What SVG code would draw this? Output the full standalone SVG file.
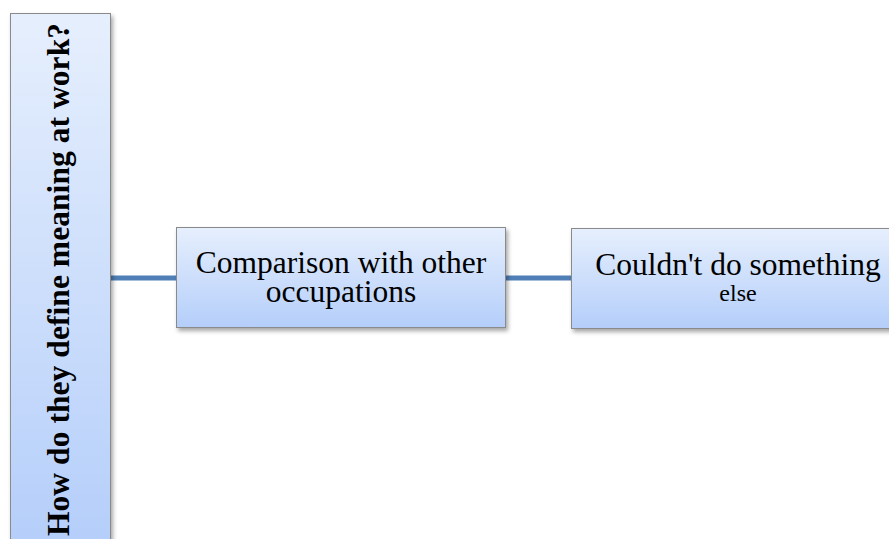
<svg xmlns="http://www.w3.org/2000/svg" width="889" height="539" viewBox="0 0 889 539">
  <defs>
    <linearGradient id="fill" x1="0" y1="0" x2="0" y2="1">
      <stop offset="0" stop-color="#e6effd"/>
      <stop offset="1" stop-color="#b4cefa"/>
    </linearGradient>
    <filter id="shadow" x="-10%" y="-10%" width="130%" height="140%">
      <feDropShadow dx="2" dy="3" stdDeviation="2" flood-color="#000" flood-opacity="0.35"/>
    </filter>
  </defs>
  <style>
    .box { fill: url(#fill); stroke: #8a8a8a; stroke-width: 1; filter: url(#shadow); }
    .lbl { font-family: "Liberation Serif", "Times New Roman", serif; fill: #000; text-anchor: middle; }
    .conn { stroke: #4f7fb6; stroke-width: 5; fill: none; }
  </style>
  <rect width="889" height="539" fill="#fff"/>
  <g id="connectors">
    <line class="conn" x1="111" y1="278" x2="176" y2="278"/>
    <line class="conn" x1="506" y1="278" x2="572" y2="278"/>
  </g>
  <g id="root">
    <rect class="box" x="10.5" y="13.5" width="100" height="540"/>
    <text class="lbl" transform="translate(69,536) rotate(-90)" x="0" y="0" font-size="31.5" font-weight="bold" style="text-anchor:start" textLength="513" lengthAdjust="spacing">How do they define meaning at work?</text>
  </g>
  <g id="comparison">
    <rect class="box" x="176.5" y="227.5" width="329" height="100"/>
    <text class="lbl" x="341" y="272.5" font-size="31.5">Comparison with other</text>
    <text class="lbl" x="341" y="302" font-size="31.5">occupations</text>
  </g>
  <g id="couldnt">
    <rect class="box" x="571.5" y="228.5" width="330" height="100"/>
    <text class="lbl" x="738" y="275" font-size="31.5">Couldn't do something</text>
    <text class="lbl" x="738" y="301" font-size="24">else</text>
  </g>
</svg>
